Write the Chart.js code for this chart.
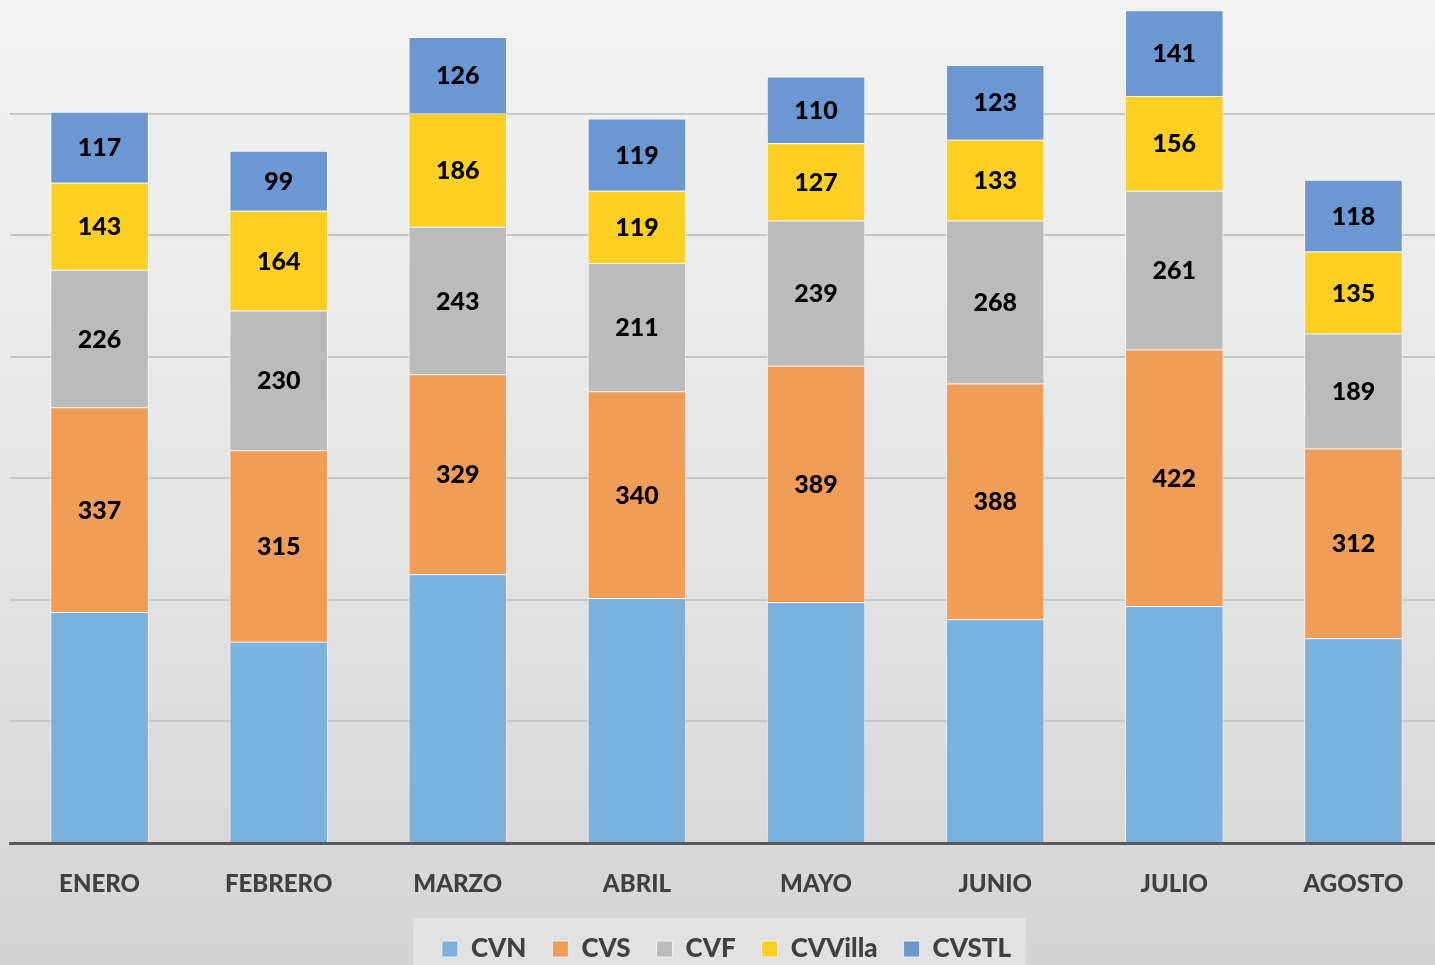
<!DOCTYPE html>
<html>
<head>
<meta charset="utf-8">
<script src="https://cdn.jsdelivr.net/npm/chart.js@4/dist/chart.umd.min.js"></script>
<style>
    html, body {
        margin: 0;
        padding: 0;
        width: 1435px;
        height: 965px;
        overflow: hidden;
        background: linear-gradient(to bottom, #f2f2f2 0%, #e4e4e4 55%, #d4d4d4 100%);
    }
    #wrap {
        position: absolute;
        left: 0;
        top: -20px;
        width: 1445px;
        height: 1000px;
    }
</style>
</head>
<body>
<div id="wrap"><canvas id="chart"></canvas></div>
<script>
const months = ['ENERO', 'FEBRERO', 'MARZO', 'ABRIL', 'MAYO', 'JUNIO', 'JULIO', 'AGOSTO'];
const seriesNames = ['CVN', 'CVS', 'CVF', 'CVVilla', 'CVSTL'];
const cvn = [380, 331, 442, 403, 396, 368, 390, 337];
const cvs = [337, 315, 329, 340, 389, 388, 422, 312];
const cvf = [226, 230, 243, 211, 239, 268, 261, 189];
const cvvilla = [143, 164, 186, 119, 127, 133, 156, 135];
const cvstl = [117, 99, 126, 119, 110, 123, 141, 118];
const colors = ['#7ab1dd', '#f09d58', '#bbbbbb', '#fccf22', '#6b97d3'];
const yMax = 1400;
const yStep = 200;

// values drawn in the middle of each segment (not for CVN)
const segmentLabels = {
    id: 'segmentLabels',
    afterDatasetsDraw(chart) {
        const {ctx} = chart;
        ctx.save();
        ctx.font = '900 25px Lato';
        ctx.fillStyle = '#000';
        ctx.textAlign = 'center';
        ctx.textBaseline = 'middle';
        chart.data.datasets.forEach((dataset, i) => {
            if (i === 0) return;
            const meta = chart.getDatasetMeta(i);
            meta.data.forEach((bar, index) => {
                const mid = (bar.y + bar.base) / 2;
                ctx.fillText(dataset.data[index], bar.x, mid + 1);
            });
        });
        ctx.restore();
    }
};

// light panel behind the legend
const legendPanel = {
    id: 'legendPanel',
    beforeDraw(chart) {
        const boxes = chart.legend && chart.legend.legendHitBoxes;
        if (!boxes || !boxes.length) return;
        const left = Math.min(...boxes.map(b => b.left));
        const right = Math.max(...boxes.map(b => b.left + b.width));
        const top = Math.min(...boxes.map(b => b.top));
        const {ctx} = chart;
        ctx.save();
        ctx.fillStyle = '#e1e1e1';
        ctx.fillRect(left - 29, top - 18, right - left + 44, 80);
        ctx.restore();
    }
};

const sets = [cvn, cvs, cvf, cvvilla, cvstl];

new Chart(document.getElementById('chart'), {
    type: 'bar',
    data: {
        labels: months,
        datasets: sets.map((values, i) => ({
            label: seriesNames[i],
            data: values,
            backgroundColor: colors[i],
            borderColor: 'rgba(255,255,255,0.7)',
            borderWidth: 1,
            barPercentage: 0.55,
            categoryPercentage: 1
        }))
    },
    options: {
        responsive: true,
        maintainAspectRatio: false,
        animation: false,
        layout: {padding: {top: 12, left: 10, right: 2, bottom: 8}},
        scales: {
            x: {
                stacked: true,
                grid: {display: false},
                border: {display: true, color: '#595959', width: 3},
                ticks: {
                    color: '#404040',
                    font: {family: 'Lato', size: 24, weight: 900},
                    padding: 19
                },
                afterFit(scale) { scale.height = 67; }
            },
            y: {
                stacked: true,
                min: 0,
                max: yMax,
                ticks: {display: false, stepSize: yStep},
                grid: {color: '#c6c6c6', lineWidth: 2, drawTicks: false},
                border: {display: false},
                afterFit(scale) { scale.width = 0; }
            }
        },
        plugins: {
            legend: {
                position: 'bottom',
                labels: {
                    color: '#404040',
                    font: {family: 'Lato', size: 26, weight: 900},
                    boxWidth: 16,
                    boxHeight: 16,
                    padding: 26
                }
            },
            tooltip: {enabled: false}
        }
    },
    plugins: [segmentLabels, legendPanel]
});
</script>
</body>
</html>
